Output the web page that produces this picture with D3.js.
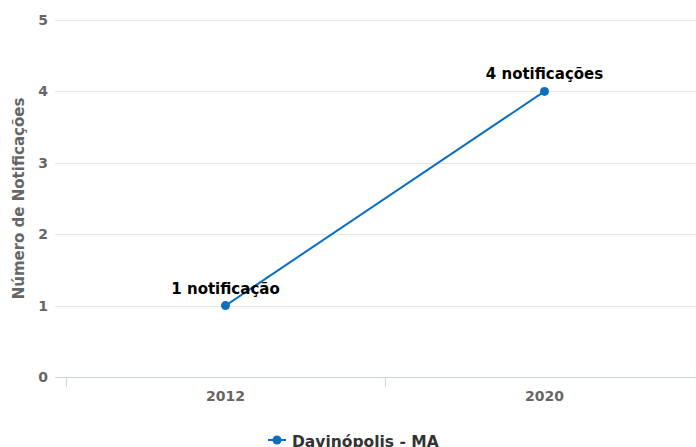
<!DOCTYPE html>
<html>
<head>
<meta charset="utf-8">
<script src="https://cdn.jsdelivr.net/npm/d3@7"></script>
<style>
  body { margin: 0; background: #fff; }
  svg { display: block; font-family: "DejaVu Sans", sans-serif; }
</style>
</head>
<body>
<div id="chart"></div>
<script>
var years = ["2012", "2020"];
var notificacoes = [1, 4];
var rotulos = ["1 notificação", "4 notificações"];
var yTicks = [0, 1, 2, 3, 4, 5];
var serieNome = "Davinópolis - MA";

(function() {
var width = 696, height = 447;
var plotLeft = 66, plotRight = 704, plotTop = 20, plotBottom = 377;
var cor = "#0a6fc2";

var svg = d3.select("#chart").append("svg")
  .attr("width", width)
  .attr("height", height);

var x = d3.scaleBand().domain(years).range([plotLeft, plotRight]);
var y = d3.scaleLinear().domain([0, 5]).range([plotBottom, plotTop]);

// grid
svg.append("g").selectAll("line")
  .data(yTicks.filter(function(d) { return d > 0; }))
  .enter().append("line")
  .attr("x1", 55).attr("x2", width)
  .attr("y1", function(d) { return Math.round(y(d)) + 0.5; })
  .attr("y2", function(d) { return Math.round(y(d)) + 0.5; })
  .attr("stroke", "#e6e6e6");

// x axis line + ticks
svg.append("line")
  .attr("x1", 55).attr("x2", width)
  .attr("y1", plotBottom + 0.5).attr("y2", plotBottom + 0.5)
  .attr("stroke", "#ccd6eb");

var xTickPos = [plotLeft].concat(years.map(function(d) { return x(d) + x.bandwidth(); }));
svg.append("g").selectAll("line")
  .data(xTickPos)
  .enter().append("line")
  .attr("x1", function(d) { return Math.round(d) + 0.5; })
  .attr("x2", function(d) { return Math.round(d) + 0.5; })
  .attr("y1", plotBottom).attr("y2", plotBottom + 10)
  .attr("stroke", "#ccd6eb");

// x labels
svg.append("g").selectAll("text")
  .data(years)
  .enter().append("text")
  .attr("x", function(d) { return x(d) + x.bandwidth() / 2; })
  .attr("y", plotBottom + 24)
  .attr("text-anchor", "middle")
  .attr("font-size", 14)
  .attr("font-weight", "bold")
  .attr("fill", "#666")
  .text(function(d) { return d; });

// y labels
svg.append("g").selectAll("text")
  .data(yTicks)
  .enter().append("text")
  .attr("x", 48)
  .attr("y", function(d) { return y(d) + 5; })
  .attr("text-anchor", "end")
  .attr("font-size", 14)
  .attr("font-weight", "bold")
  .attr("fill", "#666")
  .text(function(d) { return d; });

// y title
svg.append("text")
  .attr("transform", "translate(24," + ((plotTop + plotBottom) / 2) + ") rotate(-90)")
  .attr("text-anchor", "middle")
  .attr("font-size", 15)
  .attr("font-weight", "bold")
  .attr("fill", "#666")
  .text("Número de Notificações");

// line
var pontos = years.map(function(d, i) { return { ano: d, v: notificacoes[i], r: rotulos[i] }; });
var linha = d3.line()
  .x(function(d) { return x(d.ano) + x.bandwidth() / 2; })
  .y(function(d) { return y(d.v); });

svg.append("path")
  .datum(pontos)
  .attr("d", linha)
  .attr("fill", "none")
  .attr("stroke", cor)
  .attr("stroke-width", 2);

svg.append("g").selectAll("circle")
  .data(pontos)
  .enter().append("circle")
  .attr("cx", function(d) { return x(d.ano) + x.bandwidth() / 2; })
  .attr("cy", function(d) { return y(d.v); })
  .attr("r", 4.5)
  .attr("fill", cor);

svg.append("g").selectAll("text")
  .data(pontos)
  .enter().append("text")
  .attr("x", function(d) { return x(d.ano) + x.bandwidth() / 2; })
  .attr("y", function(d) { return y(d.v) - 12; })
  .attr("text-anchor", "middle")
  .attr("font-size", 15)
  .attr("font-weight", "bold")
  .attr("fill", "#000")
  .text(function(d) { return d.r; });

// legend
var leg = svg.append("g").attr("transform", "translate(268,440)");
leg.append("line")
  .attr("x1", 0).attr("x2", 18).attr("y1", 0).attr("y2", 0)
  .attr("stroke", cor).attr("stroke-width", 2);
leg.append("circle").attr("cx", 9).attr("cy", 0).attr("r", 4.5).attr("fill", cor);
leg.append("text")
  .attr("x", 24).attr("y", 7)
  .attr("font-size", 15.5)
  .attr("font-weight", "bold")
  .attr("fill", "#333")
  .text(serieNome);
})();
</script>
</body>
</html>
